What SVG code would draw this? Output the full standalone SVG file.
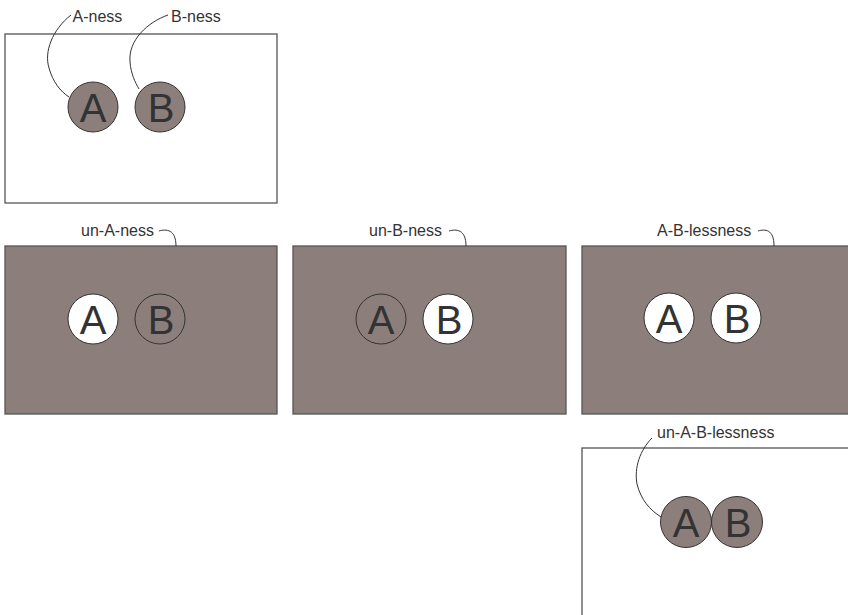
<svg xmlns="http://www.w3.org/2000/svg" width="848" height="615" viewBox="0 0 848 615">
<style>
.panel-white{fill:#fff;stroke:#555;stroke-width:1.3}
.panel-dark{fill:#8c7f7b;stroke:#555;stroke-width:1.3}
.c-dark{fill:#8c7f7b;stroke:#333;stroke-width:1}
.c-white{fill:#fff;stroke:#333;stroke-width:1}
.c-none{fill:none;stroke:#333;stroke-width:1}
.letter{font-family:"Liberation Sans",Arial,sans-serif;font-size:40px;fill:#333;text-anchor:middle}
.label{font-family:"Liberation Sans",Arial,sans-serif;font-size:16px;fill:#333}
.leader{fill:none;stroke:#333;stroke-width:1}
</style>
<rect width="848" height="615" fill="#fff"/>
<g id="panel-1">
<rect class="panel-white" x="5" y="34" width="272" height="169"/>
<circle class="c-dark" cx="93" cy="107" r="25"/>
<text class="letter" x="93" y="121.5">A</text>
<circle class="c-dark" cx="160" cy="107" r="25"/>
<text class="letter" x="161" y="121.5">B</text>
<text class="label" x="72.5" y="22">A-ness</text>
<text class="label" x="171" y="22">B-ness</text>
</g>
<g id="panel-un-A">
<rect class="panel-dark" x="5" y="246" width="272" height="168"/>
<circle class="c-white" cx="93" cy="319" r="25"/>
<text class="letter" x="93" y="333.5">A</text>
<circle class="c-none" cx="160" cy="319" r="25"/>
<text class="letter" x="161" y="333.5">B</text>
<text class="label" x="81" y="236">un-A-ness</text>
</g>
<g id="panel-un-B">
<rect class="panel-dark" x="293" y="246" width="273" height="168"/>
<circle class="c-none" cx="381" cy="319" r="25"/>
<text class="letter" x="381" y="333.5">A</text>
<circle class="c-white" cx="448" cy="319" r="25"/>
<text class="letter" x="449" y="333.5">B</text>
<text class="label" x="369" y="236">un-B-ness</text>
</g>
<g id="panel-A-B-lessness">
<rect class="panel-dark" x="582" y="246" width="280" height="168"/>
<circle class="c-white" cx="669" cy="318" r="25"/>
<text class="letter" x="669" y="332.5">A</text>
<circle class="c-white" cx="736" cy="318" r="25"/>
<text class="letter" x="737" y="332.5">B</text>
<text class="label" x="657" y="236">A-B-lessness</text>
</g>
<g id="panel-un-A-B-lessness">
<rect class="panel-white" x="582" y="448" width="280" height="180"/>
<circle class="c-dark" cx="686" cy="522" r="25.5"/>
<circle class="c-dark" cx="737" cy="522" r="25.5"/>
<text class="letter" x="686" y="536.5">A</text>
<text class="letter" x="738" y="536.5">B</text>
<text class="label" x="657" y="438">un-A-B-lessness</text>
</g>
<g id="connectors">
<path class="leader" d="M71,15 C52,30 44,52 49,68 C53,82 60,91 69,97"/>
<path class="leader" d="M168,15 C148,22 128,40 130,62 C131,74 135,82 139,89"/>
<path class="leader" d="M159,231 C166,229 176,229 176,246"/>
<path class="leader" d="M449,231 C456,229 466,229 466,246"/>
<path class="leader" d="M758,231 C765,229 774,229 774,246"/>
<path class="leader" d="M652,438 C640,450 634,468 637,484 C641,500 650,510 661,517"/>
</g>
</svg>
